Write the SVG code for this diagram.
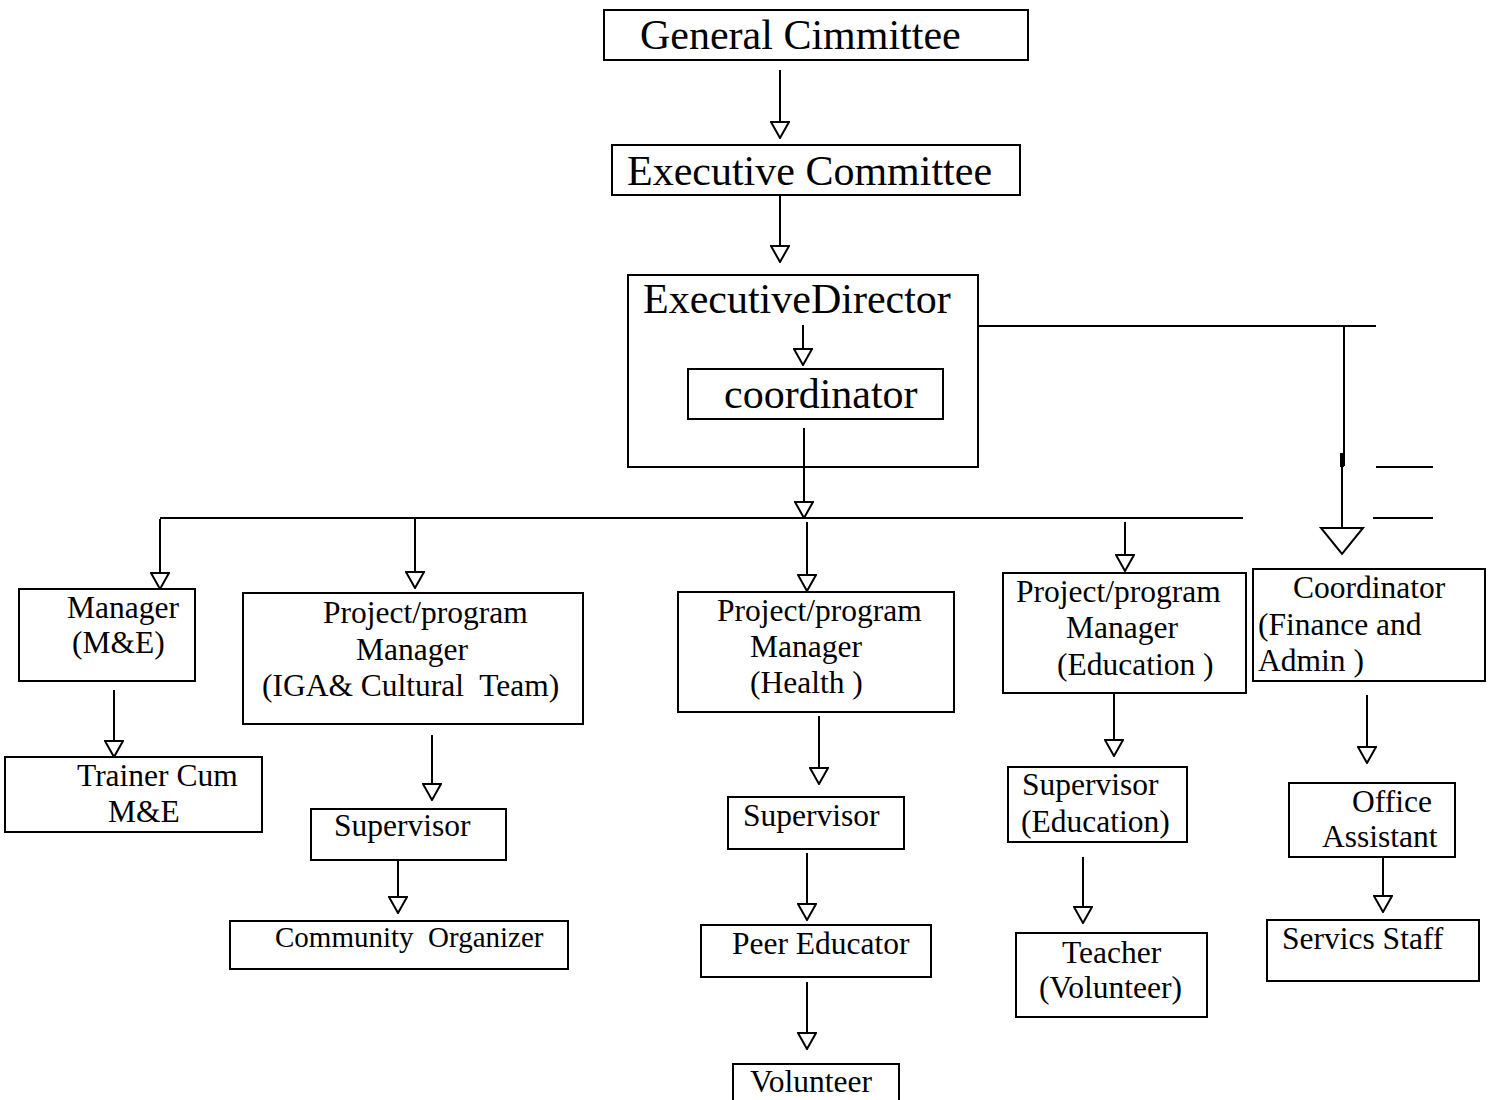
<svg xmlns="http://www.w3.org/2000/svg" width="1490" height="1100" viewBox="0 0 1490 1100">
<defs>
<marker id="arr" viewBox="-1 -1 18 20" refX="16" refY="9" markerWidth="18" markerHeight="20" markerUnits="userSpaceOnUse" orient="auto">
<path d="M0,0 L16,9 L0,18 Z" fill="#fff" stroke="#000" stroke-width="2"/>
</marker>
</defs>
<style>
rect{fill:#fff;stroke:#000;stroke-width:2}
line,polyline{stroke:#000;stroke-width:2;fill:none}
.a{marker-end:url(#arr)}
text{font-family:"Liberation Serif","Times New Roman",serif;fill:#000;white-space:pre}
.big{font-size:42px}
.sm{font-size:31.5px}
.co{font-size:29px}
</style>
<rect x="0" y="0" width="1490" height="1100" style="stroke:none"/>
<g id="connectors">
<line class="a" x1="780" y1="70" x2="780" y2="138"/>
<line class="a" x1="780" y1="196" x2="780" y2="262"/>
<line class="a" x1="803" y1="325" x2="803" y2="365"/>
<line class="a" x1="804" y1="428" x2="804" y2="518"/>
<line x1="160" y1="518" x2="1243" y2="518"/>
<line class="a" x1="160" y1="519" x2="160" y2="589"/>
<line class="a" x1="415" y1="519" x2="415" y2="588"/>
<line class="a" x1="807" y1="522" x2="807" y2="591"/>
<line class="a" x1="1125" y1="522" x2="1125" y2="571"/>
<line x1="978" y1="326" x2="1376" y2="326"/>
<line x1="1344" y1="326" x2="1344" y2="466"/>
<line x1="1342" y1="453" x2="1342" y2="467" style="stroke-width:4"/>
<line x1="1342" y1="466" x2="1342" y2="528"/>
<polygon points="1321,528 1363,528 1342,554" fill="#fff" stroke="#000" stroke-width="2"/>
<line x1="1376" y1="467" x2="1433" y2="467"/>
<line x1="1373" y1="518" x2="1433" y2="518"/>
<line class="a" x1="114" y1="690" x2="114" y2="757"/>
<line class="a" x1="432" y1="735" x2="432" y2="800"/>
<line class="a" x1="398" y1="857" x2="398" y2="913"/>
<line class="a" x1="819" y1="716" x2="819" y2="784"/>
<line class="a" x1="807" y1="853" x2="807" y2="920"/>
<line class="a" x1="807" y1="982" x2="807" y2="1049"/>
<line class="a" x1="1114" y1="693" x2="1114" y2="756"/>
<line class="a" x1="1083" y1="857" x2="1083" y2="923"/>
<line class="a" x1="1367" y1="695" x2="1367" y2="763"/>
<line class="a" x1="1383" y1="857" x2="1383" y2="912"/>
</g>
<g id="general-committee"><rect x="604" y="10" width="424" height="50"/><text class="big" x="640" y="49">General Cimmittee</text></g>
<g id="executive-committee"><rect x="612" y="145" width="408" height="50"/><text class="big" x="627" y="185">Executive Committee</text></g>
<g id="executive-director"><rect x="628" y="275" width="350" height="192" style="fill:none"/><text class="big" x="643" y="313">ExecutiveDirector</text></g>
<g id="coordinator"><rect x="688" y="369" width="255" height="50"/><text class="big" x="724" y="408">coordinator</text></g>
<g id="manager-me"><rect x="19" y="589" width="176" height="92"/><text class="sm" x="67" y="618">Manager</text><text class="sm" x="72" y="653">(M&amp;E)</text></g>
<g id="pm-iga"><rect x="243" y="593" width="340" height="131"/><text class="sm" x="323" y="623">Project/program</text><text class="sm" x="356" y="660">Manager</text><text class="sm" x="262" y="696">(IGA&amp; Cultural  Team)</text></g>
<g id="pm-health"><rect x="678" y="592" width="276" height="120"/><text class="sm" x="717" y="621">Project/program</text><text class="sm" x="750" y="657">Manager</text><text class="sm" x="750" y="693">(Health )</text></g>
<g id="pm-education"><rect x="1003" y="573" width="243" height="120"/><text class="sm" x="1016" y="602">Project/program</text><text class="sm" x="1066" y="638">Manager</text><text class="sm" x="1057" y="675">(Education )</text></g>
<g id="coordinator-finance"><rect x="1253" y="569" width="232" height="112"/><text class="sm" x="1293" y="598">Coordinator</text><text class="sm" x="1258" y="635">(Finance and</text><text class="sm" x="1258" y="671">Admin )</text></g>
<g id="trainer"><rect x="5" y="757" width="257" height="75"/><text class="sm" x="77" y="786">Trainer Cum</text><text class="sm" x="108" y="822">M&amp;E</text></g>
<g id="supervisor-iga"><rect x="311" y="809" width="195" height="51"/><text class="sm" x="334" y="836">Supervisor</text></g>
<g id="community-organizer"><rect x="230" y="921" width="338" height="48"/><text class="co" x="275" y="947">Community  Organizer</text></g>
<g id="supervisor-health"><rect x="728" y="797" width="176" height="52"/><text class="sm" x="743" y="826">Supervisor</text></g>
<g id="peer-educator"><rect x="701" y="925" width="230" height="52"/><text class="sm" x="732" y="954">Peer Educator</text></g>
<g id="volunteer"><rect x="733" y="1064" width="166" height="50"/><text class="sm" x="750" y="1092">Volunteer</text></g>
<g id="supervisor-education"><rect x="1008" y="767" width="179" height="75"/><text class="sm" x="1022" y="795">Supervisor</text><text class="sm" x="1021" y="832">(Education)</text></g>
<g id="teacher"><rect x="1016" y="933" width="191" height="84"/><text class="sm" x="1062" y="963">Teacher</text><text class="sm" x="1039" y="998">(Volunteer)</text></g>
<g id="office-assistant"><rect x="1289" y="783" width="166" height="74"/><text class="sm" x="1352" y="812">Office</text><text class="sm" x="1322" y="847">Assistant</text></g>
<g id="servics-staff"><rect x="1267" y="920" width="212" height="61"/><text class="sm" x="1282" y="949">Servics Staff</text></g>
</svg>
